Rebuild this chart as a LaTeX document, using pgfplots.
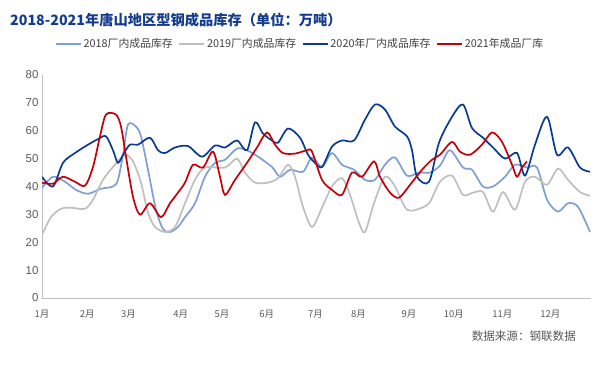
\documentclass[border=0pt]{standalone}
\usepackage{fontspec}
\setmainfont{Noto Sans CJK SC}
\newfontfamily\arial{Liberation Sans}
\usepackage{pgfplots}
\pgfplotsset{compat=1.18}
\definecolor{c18}{RGB}{127,159,210}
\definecolor{c19}{RGB}{191,191,191}
\definecolor{c20}{RGB}{10,58,145}
\definecolor{c21}{RGB}{196,0,10}
\definecolor{titleblue}{RGB}{20,60,140}
\definecolor{tickgray}{RGB}{89,89,89}
\definecolor{leggray}{RGB}{64,64,64}
\definecolor{axisgray}{RGB}{191,191,191}
\begin{document}
\begin{tikzpicture}
\useasboundingbox (0,0) rectangle (611bp,369bp);
\node[anchor=west, font=\bfseries\fontsize{14.3}{16}\selectfont, text=titleblue, inner sep=0pt] at (10bp,349bp) {2018-2021年唐山地区型钢成品库存（单位：万吨）};
\node[anchor=east, font=\fontsize{11.6}{13}\selectfont, text=tickgray, inner sep=0pt] at (576bp,33bp) {数据来源：钢联数据};
\begin{axis}[
  at={(42bp,71bp)}, anchor=south west,
  scale only axis, width=549bp, height=223bp,
  xmin=42, xmax=591, ymin=0, ymax=80,
  ytick={0,10,...,80},
  xtick={42,87.3,128.5,180.8,222,266.8,315.4,358.4,408.9,453.8,502.4,550.3},
  xticklabels={1月,2月,3月,4月,5月,6月,7月,8月,9月,10月,11月,12月},
  major tick length=0pt,
  axis lines=left,
  axis line style={-, draw=axisgray, line width=0.8bp},
  /pgf/number format/assume math mode=true,
  yticklabel style={font=\arial\fontsize{11.5}{12}\selectfont, text=tickgray},
  xticklabel style={font=\fontsize{9.5}{11}\selectfont, text=tickgray, yshift=-9bp},
  legend style={at={(0.47,1.139)}, anchor=center, draw=none, fill=none,
    font=\fontsize{10.9}{12}\selectfont, text=leggray, inner sep=0pt,
    /tikz/every even column/.append style={column sep=3.5bp}},
  legend columns=4,
  legend image code/.code={\draw[#1] (0bp,0bp) -- (25bp,0bp);},
  every axis plot/.append style={line width=1.7bp, smooth, tension=0.5},
]
\addplot[c18] coordinates {(42,39.5)(53,43.5)(65,41.7)(76,38.8)(88,37.4)(101,39.2)(113,40)(118,42.4)(123,51.4)(128,62.2)(136,61.5)(141,58)(148,46)(156,31.7)(163,24.8)(170,23.7)(178,25.5)(185,29)(195,34)(205,43.5)(215,48.5)(225,49.6)(237,53.6)(247,53)(258,50.7)(272,47)(280,43.5)(290,46)(303,45.3)(312,50.4)(322,47)(332,52)(342,47.8)(354,46)(365,42.4)(375,42.4)(385,47.8)(395,50.4)(407,43.9)(419,45)(430,45)(440,47.5)(450,53)(463,46.8)(472,46)(483,40)(493,40)(505,43.5)(515,47.8)(527,46.8)(537,46.8)(547,35.3)(558,31)(568,34)(578,32.7)(590,23.7)};
\addlegendentry{2018厂内成品库存}
\addplot[c19] coordinates {(42,22.7)(51,29)(61,32)(71,32.4)(85,32)(93,35.3)(103,42.4)(113,47)(125,51.4)(133,49)(141,41.4)(148,30.6)(155,25.5)(165,23.7)(175,25.5)(185,34)(195,42.4)(205,46.8)(225,46.8)(237,50)(245,45)(255,41.4)(268,41.4)(278,43)(288,47.8)(295,43.5)(303,32.7)(312,25.5)(322,32.4)(332,40)(342,43)(350,37)(359,27)(365,23.7)(374,34)(385,43.5)(395,40)(407,31.7)(422,32.4)(430,34.5)(440,41.7)(452,43.9)(463,37)(473,37.8)(483,38)(493,31)(503,38)(515,31.7)(525,41.7)(535,43.5)(547,40.6)(558,46.4)(568,42.4)(580,38)(590,36.7)};
\addlegendentry{2019厂内成品库存}
\addplot[c20] coordinates {(42,43.5)(53,40)(63,48.5)(75,52)(88,55)(98,57)(106,58)(113,53)(118,48.5)(124,52)(130,55)(138,55)(150,57.5)(158,53)(165,52)(175,54)(188,54.5)(202,50.7)(215,54.7)(225,54)(237,56.5)(247,53)(255,63)(263,59)(272,56.5)(278,55.7)(288,60.8)(300,57.5)(308,51.4)(315,48.5)(322,47)(332,54.3)(342,56.5)(354,56.5)(365,64)(375,69.4)(385,67.6)(395,61.5)(407,58)(412,53)(417,43.5)(429,41.7)(439,55.7)(452,65)(463,69.4)(472,61)(483,57.5)(493,54)(505,50)(517,52)(525,43.9)(535,55)(547,65)(557,51.4)(568,54)(580,46.8)(590,45.3)};
\addlegendentry{2020年厂内成品库存}
\addplot[c21] coordinates {(42,41.4)(53,41)(63,43.5)(75,41.7)(85,40.3)(93,47)(100,58)(106,65.8)(116,65.8)(121,61.5)(126,50.7)(133,36.3)(140,29.9)(150,34)(161,29)(170,34)(178,37.8)(185,41.4)(193,47.8)(203,46.8)(213,52.5)(220,43.5)(225,37)(235,42.4)(247,48.5)(257,54)(267,59.4)(275,55)(283,52)(295,51.8)(307,53)(312,52.5)(322,42.4)(332,38.8)(342,37)(352,45)(362,43.5)(374,49)(380,43.5)(390,37.8)(399,36)(410,40.6)(422,46)(432,49.6)(440,51.4)(452,56)(460,52.5)(470,51.4)(482,55)(492,59.4)(502,56)(512,47.8)(517,43.5)(522,46.8)(527,49)};
\addlegendentry{2021年成品厂库}
\end{axis}
\end{tikzpicture}
\end{document}
